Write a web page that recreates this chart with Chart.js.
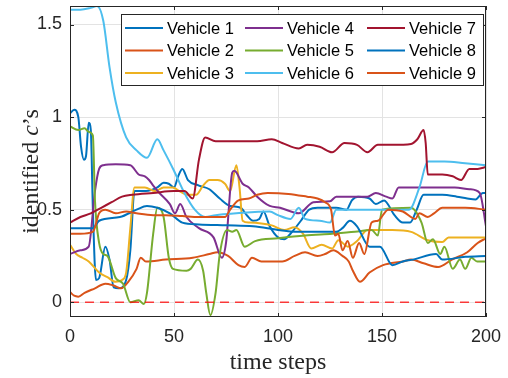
<!DOCTYPE html>
<html>
<head>
<meta charset="utf-8">
<script src="https://cdn.jsdelivr.net/npm/chart.js@4"></script>
<style>
  html, body { margin: 0; padding: 0; background: #fff; }
  #wrap { width: 508px; height: 378px; position: relative; }
</style>
</head>
<body>
<div id="wrap"><canvas id="c"></canvas></div>
<script>
// identified c's per vehicle over time — [time step, value] pairs

const vehicle1 = [[0,1.02],[2,1.04],[4,1.0],[5.3,0.84],[6.7,0.77],[7.7,0.79],[9,0.97],[10,0.93],[11,0.5],[12.5,0.12],[14,0.13],[17,0.3],[19,0.23],[21,0.08],[23.5,0.075],[27,0.12],[29,0.28],[31,0.6],[36.5,0.6],[42,0.62],[45,0.645],[47.5,0.64],[50,0.62],[52,0.68],[54,0.72],[56.7,0.66],[62,0.63],[67,0.61],[72,0.56],[77,0.52],[82,0.51],[85,0.47],[88,0.44],[91,0.45],[93,0.49],[96,0.41],[100,0.35],[103,0.34],[106,0.37],[111,0.44],[115,0.5],[119,0.51],[128,0.51],[133,0.5],[135.5,0.55],[138.5,0.57],[144,0.56],[147,0.53],[151,0.55],[156,0.47],[160,0.43],[163.5,0.43],[166.7,0.5],[170,0.58],[179,0.58],[186,0.57],[191,0.56],[195,0.555],[198.5,0.59],[200,0.59]];
const vehicle2 = [[0,0.055],[2,0.035],[4,0.03],[7,0.05],[12,0.075],[17,0.1],[21,0.09],[24.6,0.075],[28,0.11],[32,0.18],[34,0.24],[36.5,0.22],[46,0.23],[59,0.24],[67,0.26],[71,0.27],[76,0.25],[81,0.2],[84,0.19],[87.5,0.24],[92,0.22],[102,0.22],[108,0.25],[113,0.27],[119,0.25],[122.6,0.26],[126.6,0.28],[131,0.25],[134,0.22],[136,0.17],[139.4,0.11],[144,0.16],[150.5,0.2],[160,0.22],[164,0.23],[170,0.21],[177,0.19],[183.6,0.23],[191,0.27],[196,0.32],[200,0.345]];
const vehicle3 = [[0,0.31],[3,0.26],[6,0.24],[9,0.22],[14,0.16],[18,0.135],[22,0.11],[25,0.12],[27,0.16],[29,0.4],[31,0.62],[36,0.62],[41,0.6],[45,0.62],[49.5,0.62],[52.6,0.6],[57,0.58],[60.6,0.58],[64,0.63],[67,0.66],[71,0.66],[74.5,0.64],[77,0.6],[80,0.74],[81.5,0.62],[83,0.44],[86,0.43],[97,0.415],[103,0.39],[108,0.405],[112,0.37],[116,0.29],[121,0.31],[126,0.29],[129,0.335],[133.6,0.3],[138,0.33],[143,0.39],[155,0.39],[164,0.38],[172,0.335],[179,0.325],[182,0.35],[190,0.35],[200,0.35]];
const vehicle4 = [[0,0.26],[5,0.28],[9,0.3],[12,0.6],[14,0.72],[16,0.74],[22,0.745],[29,0.74],[33,0.69],[36,0.68],[38,0.66],[40,0.63],[43,0.59],[48,0.53],[50.5,0.48],[53,0.53],[56,0.46],[62,0.4],[69,0.35],[73,0.24],[75,0.32],[78,0.7],[79,0.71],[83,0.64],[86,0.62],[90,0.57],[96,0.52],[101,0.51],[110,0.48],[117,0.54],[125,0.545],[128,0.57],[143,0.57],[147,0.59],[152,0.57],[155,0.56],[158,0.62],[170,0.62],[185,0.62],[192,0.61],[197,0.59],[200,0.41]];
const vehicle5 = [[0,0.95],[4,0.93],[7,0.94],[9,0.92],[11,0.9],[12,0.55],[14,0.32],[16,0.26],[18,0.25],[22,0.13],[25.5,0.1],[29,0.0],[33,0.01],[35.5,-0.01],[37,0.05],[40,0.37],[42,0.51],[45,0.46],[47.5,0.24],[49.5,0.18],[56,0.17],[58,0.18],[61.5,0.23],[64,0.17],[65.5,0.05],[67.5,-0.07],[70,0.05],[72,0.26],[75.5,0.39],[78,0.38],[80,0.39],[84,0.3],[89,0.33],[100,0.345],[113,0.36],[126,0.37],[137,0.38],[145,0.39],[148,0.36],[150,0.5],[164,0.51],[169,0.43],[172,0.32],[174.5,0.34],[178,0.26],[180,0.3],[184,0.18],[187.5,0.23],[190,0.18],[193,0.24],[195.7,0.22],[200,0.22]];
const vehicle6 = [[0,1.58],[5,1.58],[10,1.59],[13,1.6],[16,1.52],[19,1.27],[22,1.08],[27,0.89],[32,0.82],[37,0.78],[42,0.88],[45,0.82],[50,0.71],[55,0.59],[60,0.5],[65,0.46],[70,0.47],[80,0.48],[96,0.49],[100,0.47],[106,0.45],[110,0.51],[113,0.45],[120,0.44],[125,0.43],[128,0.5],[145,0.5],[163,0.5],[168,0.62],[172,0.76],[180,0.76],[190,0.75],[200,0.74]];
const vehicle7 = [[0,0.43],[5,0.46],[10,0.48],[15,0.51],[20,0.54],[25,0.57],[30,0.58],[40,0.59],[50,0.6],[55,0.6],[59,0.56],[62,0.77],[65,0.89],[70,0.87],[80,0.87],[90,0.87],[97,0.88],[102,0.86],[110,0.83],[114,0.85],[120,0.84],[126,0.81],[132,0.86],[138,0.85],[143,0.81],[148,0.85],[155,0.85],[164,0.855],[167,0.88],[170,0.93],[171,0.86],[172,0.69],[179,0.69],[184,0.68],[188,0.66],[192,0.72],[196,0.72],[200,0.73]];
const vehicle8 = [[0,0.4],[5,0.4],[11,0.4],[14,0.44],[24,0.46],[32,0.5],[37,0.52],[42,0.51],[48,0.48],[54,0.43],[62,0.42],[75,0.415],[88,0.41],[95,0.4],[100,0.39],[110,0.38],[125,0.38],[128,0.38],[131,0.4],[134.6,0.44],[138,0.41],[144,0.3],[149,0.3],[155,0.2],[160,0.22],[165,0.23],[176,0.26],[179,0.23],[190,0.245],[200,0.25]];
const vehicle9 = [[0,0.37],[5,0.37],[11,0.38],[14,0.48],[17,0.5],[22,0.48],[27,0.49],[32,0.48],[40,0.47],[46,0.47],[54,0.465],[62,0.46],[70,0.46],[74.5,0.46],[77,0.5],[81,0.55],[86,0.56],[90,0.58],[95,0.59],[105,0.585],[114,0.57],[119,0.56],[122.6,0.54],[125.5,0.5],[127.4,0.36],[129,0.37],[131,0.28],[133.5,0.33],[136,0.24],[139,0.32],[141.5,0.26],[145,0.43],[148,0.44],[153,0.5],[160,0.49],[166,0.45],[168,0.48],[172,0.46],[175,0.48],[179,0.51],[190,0.51],[200,0.5]];

const SERIES = [vehicle1, vehicle2, vehicle3, vehicle4, vehicle5, vehicle6, vehicle7, vehicle8, vehicle9];
const LABELS = ['Vehicle 1','Vehicle 2','Vehicle 3','Vehicle 4','Vehicle 5','Vehicle 6','Vehicle 7','Vehicle 8','Vehicle 9'];
const ZERO_LINE = [[0,0],[200,0]];
const X_TICKS = [0, 50, 100, 150, 200];
const Y_TICKS = [0, 0.5, 1, 1.5];

// MATLAB default line colours
const COLORS = ['#0072BD','#D95319','#EDB120','#7E2F8E','#77AC30','#4DBEEE','#A2142F','#0072BD','#D95319'];

const AXIS_COLOR = '#262626';
const SANS = "'Liberation Sans', Arial, sans-serif";
const SERIF = "'Liberation Serif', 'DejaVu Serif', serif";

const toPts = arr => arr.map(([x, y]) => ({ x, y }));

const datasets = SERIES.map((s, i) => ({
  label: LABELS[i],
  data: toPts(s),
  borderColor: COLORS[i],
  borderWidth: 2,
  pointRadius: 0,
  cubicInterpolationMode: 'monotone',
  order: SERIES.length - i,   // later vehicles drawn on top, like MATLAB
}));

datasets.push({
  label: 'zero',
  data: toPts(ZERO_LINE),
  borderColor: 'rgba(255,0,0,0.75)',
  borderWidth: 1.5,
  borderDash: [9, 6],
  pointRadius: 0,
  order: -1,
});

// box round the axes plus inward tick marks on all four sides
const framePlugin = {
  id: 'frame',
  afterDraw(chart) {
    const { ctx, chartArea: a, scales: { x, y } } = chart;
    ctx.save();
    ctx.strokeStyle = AXIS_COLOR;
    ctx.lineWidth = 1;
    ctx.strokeRect(a.left + 0.5, a.top + 0.5, a.right - a.left - 1, a.bottom - a.top - 1);
    ctx.beginPath();
    X_TICKS.forEach(v => {
      const px = Math.round(x.getPixelForValue(v)) + 0.5;
      ctx.moveTo(px, a.bottom); ctx.lineTo(px, a.bottom - 4);
      ctx.moveTo(px, a.top);    ctx.lineTo(px, a.top + 4);
    });
    Y_TICKS.forEach(v => {
      const py = Math.round(y.getPixelForValue(v)) + 0.5;
      ctx.moveTo(a.left, py);  ctx.lineTo(a.left + 4, py);
      ctx.moveTo(a.right, py); ctx.lineTo(a.right - 4, py);
    });
    ctx.stroke();
    ctx.restore();
  }
};

// y title with an italic c, drawn rotated
const yTitlePlugin = {
  id: 'yTitle',
  afterDraw(chart) {
    const { ctx, chartArea: a } = chart;
    const parts = [
      { t: 'identified ', f: `24px ${SERIF}` },
      { t: 'c', f: `italic 24px ${SERIF}` },
      { t: '\u2019s', f: `24px ${SERIF}` },
    ];
    ctx.save();
    ctx.translate(30, (a.top + a.bottom) / 2 + 10);
    ctx.rotate(-Math.PI / 2);
    ctx.fillStyle = AXIS_COLOR;
    ctx.textBaseline = 'alphabetic';
    let total = 0;
    parts.forEach(p => { ctx.font = p.f; p.w = ctx.measureText(p.t).width; total += p.w; });
    let cx = -total / 2;
    parts.forEach(p => { ctx.font = p.f; ctx.fillText(p.t, cx, 8); cx += p.w; });
    ctx.restore();
  }
};

// 3-column legend, filled column by column
const legendPlugin = {
  id: 'matLegend',
  afterDraw(chart) {
    const { ctx } = chart;
    const box = { x: 121, y: 14, w: 362, h: 71 };
    const colX = [125, 245, 367];
    const rowY = [28, 50.5, 73];
    ctx.save();
    ctx.fillStyle = '#fff';
    ctx.fillRect(box.x, box.y, box.w, box.h);
    ctx.strokeStyle = AXIS_COLOR;
    ctx.lineWidth = 1;
    ctx.strokeRect(box.x + 0.5, box.y + 0.5, box.w, box.h);
    ctx.font = `16.5px ${SANS}`;
    ctx.textBaseline = 'middle';
    LABELS.forEach((lab, i) => {
      const cx = colX[Math.floor(i / 3)];
      const cy = rowY[i % 3];
      ctx.strokeStyle = COLORS[i];
      ctx.lineWidth = 2;
      ctx.beginPath();
      ctx.moveTo(cx, cy); ctx.lineTo(cx + 38, cy);
      ctx.stroke();
      ctx.fillStyle = '#000';
      ctx.fillText(lab, cx + 42, cy + 1);
    });
    ctx.restore();
  }
};

const noEdgePadding = s => { s.paddingTop = 0; s.paddingBottom = 0; s.paddingLeft = 0; s.paddingRight = 0; };

new Chart(document.getElementById('c'), {
  type: 'line',
  data: { datasets },
  plugins: [framePlugin, yTitlePlugin, legendPlugin],
  options: {
    responsive: true,
    maintainAspectRatio: false,
    animation: false,
    layout: { padding: { top: 6, right: 22, left: 0, bottom: 0 } },
    plugins: { legend: { display: false }, tooltip: { enabled: false } },
    scales: {
      x: {
        type: 'linear',
        min: 0,
        max: 200,
        afterBuildTicks: s => { s.ticks = X_TICKS.map(value => ({ value })); },
        afterFit: s => { s.height = 61; noEdgePadding(s); },
        grid: { color: '#e3e3e3', drawTicks: false },
        border: { display: false },
        ticks: {
          color: AXIS_COLOR,
          font: { family: SANS, size: 18 },
          padding: 9,
          maxRotation: 0,
        },
        title: {
          display: true,
          text: 'time steps',
          color: AXIS_COLOR,
          font: { family: SERIF, size: 24 },
          padding: { top: 0, bottom: 1 },
        },
      },
      y: {
        min: -0.08,
        max: 1.6,
        afterBuildTicks: s => { s.ticks = Y_TICKS.map(value => ({ value })); },
        afterFit: s => { s.width = 70; noEdgePadding(s); },
        grid: { color: '#e3e3e3', drawTicks: false },
        border: { display: false },
        ticks: {
          color: AXIS_COLOR,
          font: { family: SANS, size: 18 },
          padding: 8,
          callback: v => String(v),
        },
      },
    },
  },
});
</script>
</body>
</html>
